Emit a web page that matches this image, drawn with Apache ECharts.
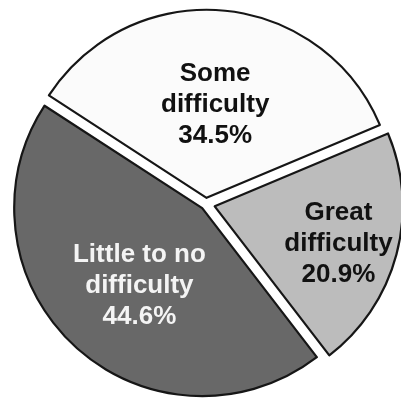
<!DOCTYPE html>
<html>
<head>
<meta charset="utf-8">
<script src="https://cdn.jsdelivr.net/npm/echarts@6/dist/echarts.min.js"></script>
<style>
  html, body { margin: 0; padding: 0; background: #fff; }
  #chart { width: 401px; height: 400px; }
</style>
</head>
<body>
<div id="chart"></div>
<script>
// Reported difficulty levels (percent of respondents)
const categories = ['Some difficulty', 'Great difficulty', 'Little to no difficulty'];
const shares = [34.5, 20.9, 44.6];
const fills = ['#fbfbfb', '#bcbcbc', '#686868'];
const labelColors = ['#111111', '#111111', '#f4f4f4'];

// Pie geometry: every slice is pulled out along its bisector so that
// neighbouring slices are separated by a white channel of constant width.
const CX = 206, CY = 204, R = 188, START = 147, GAP = 11;
const labelShift = [[0, 4], [30, 13], [3, 6]];

const total = shares.reduce((a, b) => a + b, 0);
let angle = START;
const series = categories.map((name, i) => {
  const span = shares[i] / total * 360;
  const mid = (angle - span / 2) * Math.PI / 180;
  angle -= span;
  const d = (GAP / 2) / Math.sin(span / 2 * Math.PI / 180);
  return {
    type: 'pie',
    radius: R,
    center: [CX + d * Math.cos(mid), CY - d * Math.sin(mid)],
    startAngle: START,
    clockwise: true,
    avoidLabelOverlap: false,
    silent: true,
    animation: false,
    labelLayout: { dx: labelShift[i][0], dy: labelShift[i][1] },
    data: categories.map((n, j) => ({
      name: n,
      value: shares[j],
      itemStyle: j === i
        ? { color: fills[j], borderColor: '#161616', borderWidth: 2.2 }
        : { color: 'rgba(0,0,0,0)', borderWidth: 0 },
      label: { show: j === i }
    })),
    label: {
      position: 'inside',
      formatter: p => p.name.replace(/ (?=\S+$)/, '\n') + '\n' + p.value + '%',
      color: labelColors[i],
      fontFamily: '"Liberation Sans", Arial, sans-serif',
      fontWeight: 'bold',
      fontSize: 26,
      lineHeight: 31
    },
    labelLine: { show: false },
    emphasis: { disabled: true }
  };
});

const chart = echarts.init(document.getElementById('chart'), null, { renderer: 'canvas' });
chart.setOption({ animation: false, series: series });
</script>
</body>
</html>
